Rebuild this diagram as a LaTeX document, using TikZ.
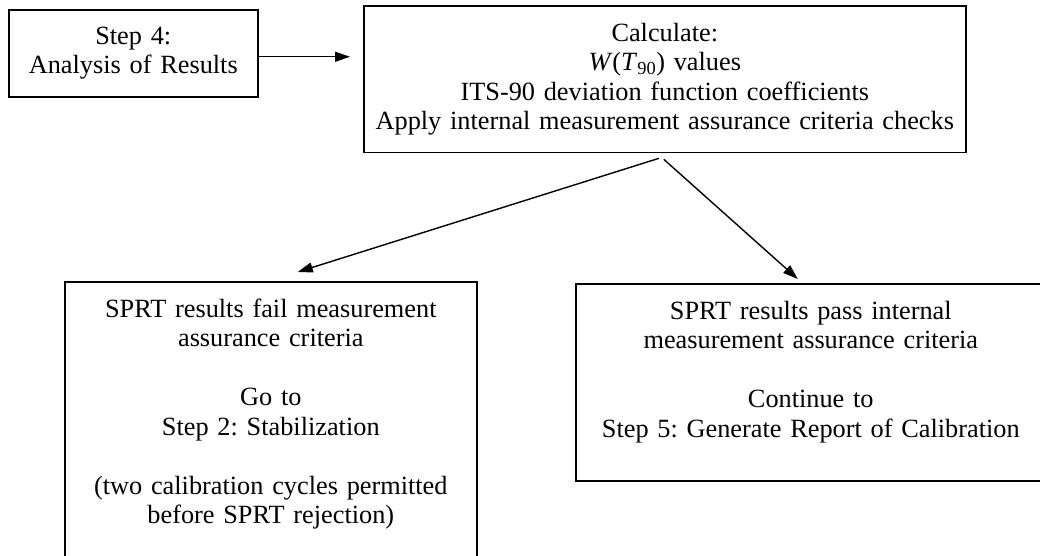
\documentclass[tikz,border=0pt]{standalone}
\usepackage{fontspec}
\setmainfont{Liberation Serif}
\usepackage{tikz}
\usetikzlibrary{positioning, arrows.meta}
\frenchspacing
\tikzstyle{bx}=[%
      rectangle, draw=black, line width=1.6pt, fill=none, anchor=north west,
      font=\fontsize{26.3}{29.5}\selectfont, align=center, inner xsep=0pt, inner ysep=17pt
]
\begin{document}
\begin{tikzpicture}[x=1pt, y=-1pt,
    line width=1.4pt,
    -{Triangle[length=15pt,width=10pt]}
  ]
    \useasboundingbox (0,0) rectangle (1040,556);

    \node[bx, text width=249pt, text depth=35.5pt]  (1) at (8,9)    {Step 4:\\Analysis of Results};
    \node[bx, text width=602pt, text depth=94.5pt]  (2) at (363,5)  {Calculate:\\\textit{W}(\textit{T}\textsubscript{90}) values\\ITS-90 deviation function coefficients\\Apply internal measurement assurance criteria checks};
    \node[bx, text width=412pt, text depth=236.5pt] (3) at (64,281)  {SPRT results fail measurement\\assurance criteria\\[29.5pt]Go to\\Step 2: Stabilization\\[29.5pt](two calibration cycles permitted\\before SPRT rejection)};
    \node[bx, text width=470pt, text depth=145pt]   (4) at (575,283) {SPRT results pass internal\\measurement assurance criteria\\[29.5pt]Continue to\\Step 5: Generate Report of Calibration};

    \coordinate (a) at ([yshift=-3.5pt]1.east);
    \draw[shorten >=13pt] (a) -- (a -| 2.west);
    \draw ([xshift=-6pt,yshift=-5pt]2.south) -- ([xshift=27pt,yshift=9pt]3.north);
    \draw ([xshift=-1pt,yshift=-6pt]2.south) -- ([xshift=-13pt,yshift=4pt]4.north);

  \end{tikzpicture}
\end{document}
